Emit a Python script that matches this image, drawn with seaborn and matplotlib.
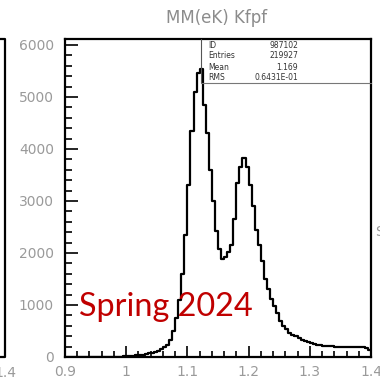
import numpy as np
import pandas as pd
import seaborn as sns
import matplotlib
matplotlib.use("Agg")
import matplotlib.pyplot as plt
from matplotlib.ticker import MultipleLocator, FixedLocator, FixedFormatter
from matplotlib.lines import Line2D

# ---- histogram MM(eK) Kfpf : 100 bins from 0.9 to 1.4 ----
x_lo, x_hi, n_bins = 0.9, 1.4, 100
counts = [
    # 0.900 - 0.950
    0, 0, 0, 0, 0, 0, 0, 0, 0, 0,
    # 0.950 - 1.000
    0, 0, 1, 1, 2, 3, 4, 6, 8, 11,
    # 1.000 - 1.050
    15, 20, 25, 30, 40, 45, 55, 70, 85, 100,
    # 1.050 - 1.100
    120, 150, 190, 240, 320, 500, 750, 1100, 1600, 2350,
    # 1.100 - 1.150
    3300, 4350, 5100, 5460, 5530, 4850, 4300, 3600, 3000, 2420,
    # 1.150 - 1.200
    2080, 1880, 1930, 2020, 2150, 2650, 3350, 3650, 3820, 3650,
    # 1.200 - 1.250
    3300, 2900, 2450, 2150, 1850, 1500, 1300, 1120, 980, 850,
    # 1.250 - 1.300
    700, 600, 530, 470, 430, 400, 370, 330, 300, 280,
    # 1.300 - 1.350
    265, 250, 240, 230, 220, 215, 210, 205, 200, 195,
    # 1.350 - 1.400
    190, 195, 190, 185, 190, 195, 190, 185, 180, 130,
]

stat_names = ["ID", "Entries", "Mean", "RMS"]
stat_values = ["987102", "219927", "1.169", "0.6431E-01"]

title_text = "MM(eK) Kfpf"
note_text = "Spring 2024"

x_ticks = [0.9, 1.0, 1.1, 1.2, 1.3, 1.4]
x_tick_labels = ["0.9", "1", "1.1", "1.2", "1.3", "1.4"]
y_ticks = [0, 1000, 2000, 3000, 4000, 5000, 6000]
y_tick_labels = ["0", "1000", "2000", "3000", "4000", "5000", "6000"]
y_top = 6115

bin_width = (x_hi - x_lo) / n_bins
centers = x_lo + bin_width * (np.arange(n_bins) + 0.5)
df = pd.DataFrame({"mass": centers, "n": counts})

sns.set_style("white")
plt.rcParams["font.family"] = ["DejaVu Sans"]

W, H = 380, 380
fig = plt.figure(figsize=(W / 100, H / 100), dpi=100)
fig.patch.set_facecolor("white")

# frame geometry in pixels
L, R, T, B = 65, 371, 39, 357
ax = fig.add_axes([L / W, (H - B) / H, (R - L) / W, (B - T) / H])

sns.histplot(data=df, x="mass", weights="n", binwidth=bin_width,
             binrange=(x_lo, x_hi), element="step",
             fill=False, color="black", linewidth=1.6, ax=ax)

ax.set_xlim(x_lo, x_hi)
ax.set_ylim(0, y_top)
ax.set_xlabel("")
ax.set_ylabel("")

for side, sp in ax.spines.items():
    sp.set_visible(True)
    sp.set_color("black")
    sp.set_linewidth(1.6)

ax.xaxis.set_major_locator(FixedLocator(x_ticks))
ax.xaxis.set_major_formatter(FixedFormatter(x_tick_labels))
ax.xaxis.set_minor_locator(MultipleLocator(0.02))
ax.yaxis.set_major_locator(FixedLocator(y_ticks))
ax.yaxis.set_major_formatter(FixedFormatter(y_tick_labels))
ax.yaxis.set_minor_locator(MultipleLocator(200))

ax.tick_params(axis="x", which="major", direction="in", length=8, width=1.2,
               color="black", labelsize=10, labelcolor="#9a9a9a", pad=6,
               bottom=True, top=False)
ax.tick_params(axis="x", which="minor", direction="in", length=4, width=1.2,
               color="black", bottom=True, top=False)
ax.tick_params(axis="y", which="major", direction="in", length=9, width=1.2,
               color="black", labelsize=10, labelcolor="#9a9a9a", pad=8,
               left=True, right=False)
ax.tick_params(axis="y", which="minor", direction="in", length=5, width=1.2,
               color="black", left=True, right=False)

# statistics box in the upper right corner
bx0 = (201 - L) / (R - L)
by0 = (B - 83) / (B - T)
ax.plot([bx0, bx0], [by0, 1.0], transform=ax.transAxes, color="#555555",
        lw=0.8, clip_on=False, zorder=5)
ax.plot([bx0, 1.0], [by0, by0], transform=ax.transAxes, color="#777777",
        lw=0.8, clip_on=False, zorder=5)
row_px = [45, 56, 67, 78]
for name, val, ypx in zip(stat_names, stat_values, row_px):
    yy = (B - ypx) / (B - T)
    ax.text((208 - L) / (R - L), yy, name, transform=ax.transAxes,
            fontsize=5.5, color="#333333", va="center", ha="left")
    ax.text((298 - L) / (R - L), yy, val, transform=ax.transAxes,
            fontsize=5.5, color="#333333", va="center", ha="right")

# title
fig.text(217 / W, 1 - 18 / H, title_text, ha="center", va="center",
         fontsize=12, color="#8c8c8c")

# run label
ax.text((79 - L) / (R - L), (B - 316) / (B - T), note_text,
        transform=ax.transAxes, fontsize=23.3, color="#c00000",
        family=["Lato", "DejaVu Sans"], ha="left", va="baseline")

# edge of the neighbouring panel on the left
fig.add_artist(Line2D([0, 5 / W, 5 / W, 0],
                      [(H - T) / H, (H - T) / H, (H - B) / H, (H - B) / H],
                      transform=fig.transFigure, color="black", lw=1.6))
fig.text(5 / W, 1 - 373 / H, "1.4", ha="center", va="center",
         fontsize=10, color="#9a9a9a")
# start of the neighbouring panel's text on the right
fig.text(375 / W, 1 - 232 / H, "S", ha="left", va="center",
         fontsize=10, color="#9a9a9a")

fig.savefig("out.png", dpi=100, facecolor="white")
